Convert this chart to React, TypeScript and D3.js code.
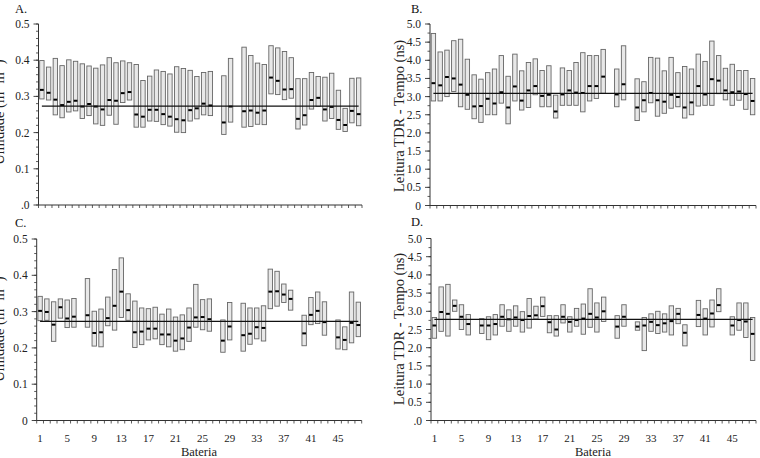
import React from 'react';
import * as d3 from 'd3';

// ---------- data ----------
const batteries = d3.range(1, 49);
const xTickLabels = [1, 5, 9, 13, 17, 21, 25, 29, 33, 37, 41, 45];

type V = number | null;

// Panel A – Umidade (m3 m-3)
const aMax: V[] = [0.399,0.381,0.405,0.385,0.401,0.397,0.390,0.384,0.378,0.387,0.407,0.393,0.398,0.393,0.388,0.344,0.356,0.373,0.369,0.362,0.382,0.377,0.372,0.355,0.366,0.369,null,0.357,0.405,null,0.436,0.413,0.392,0.388,0.440,0.434,0.424,0.407,0.349,0.349,0.366,0.355,0.353,0.364,0.317,0.267,0.350,0.351];
const aMin: V[] = [0.293,0.290,0.249,0.241,0.257,0.260,0.239,0.247,0.224,0.220,0.248,0.223,0.283,0.290,0.215,0.215,0.232,0.231,0.222,0.218,0.201,0.200,0.232,0.238,0.249,0.247,null,0.195,0.229,null,0.215,0.217,0.223,0.222,0.307,0.305,0.291,0.295,0.210,0.221,0.265,0.272,0.232,0.239,0.209,0.203,0.227,0.219];
const aMed: V[] = [0.318,0.310,0.291,0.276,0.285,0.288,0.272,0.279,0.272,0.264,0.290,0.288,0.309,0.312,0.250,0.244,0.263,0.263,0.251,0.244,0.237,0.234,0.262,0.267,0.280,0.275,null,0.228,0.272,null,0.259,0.261,0.255,0.261,0.352,0.343,0.319,0.320,0.238,0.248,0.290,0.296,0.264,0.271,0.235,0.221,0.260,0.251];
const aMean = 0.273;

// Panel B – Leitura TDR - Tempo (ns)
const bMax: V[] = [4.74,4.23,4.28,4.54,4.58,4.03,3.60,3.48,3.66,3.76,4.13,3.56,4.17,3.71,3.94,4.04,3.72,3.85,3.04,3.79,3.72,3.94,4.21,4.13,4.13,4.30,null,3.76,4.40,null,3.49,3.41,4.08,4.06,3.71,4.08,3.66,3.83,3.76,4.17,3.97,4.53,4.13,3.78,3.89,3.72,3.72,3.50];
const bMin: V[] = [2.88,2.88,3.00,3.14,2.72,2.65,2.39,2.29,2.50,2.50,2.82,2.25,2.88,2.63,2.70,3.05,2.72,2.72,2.41,2.76,2.76,2.76,2.58,2.88,2.95,3.09,null,2.72,2.91,null,2.34,2.58,2.83,2.46,2.54,2.68,2.72,2.41,2.50,2.74,2.76,2.76,3.08,2.91,2.76,2.90,2.65,2.50];
const bMed: V[] = [3.37,3.31,3.54,3.50,3.33,3.05,2.73,2.74,2.94,2.81,3.12,2.70,3.28,2.89,3.17,3.29,3.02,3.05,2.59,3.06,3.17,3.11,3.10,3.29,3.29,3.55,null,3.06,3.34,null,2.70,2.90,3.10,2.90,2.86,3.05,2.99,2.70,2.84,3.29,3.06,3.48,3.44,3.17,3.12,3.14,3.07,2.88];
const bMean = 3.09;

// Panel C – Umidade (m3 m-3)
const cMax: V[] = [0.342,0.335,0.327,0.335,0.332,0.336,null,0.391,0.301,0.307,0.340,0.416,0.448,0.349,0.329,0.310,0.308,0.312,0.293,0.307,0.285,0.291,0.310,0.375,0.333,0.335,null,0.277,0.325,null,0.323,0.310,0.310,0.316,0.417,0.411,0.376,0.359,null,0.290,0.339,0.354,0.327,null,0.277,0.258,0.354,0.326];
const cMin: V[] = [0.275,0.276,0.218,0.282,0.256,0.257,null,0.257,0.205,0.203,0.261,0.249,0.284,0.276,0.201,0.209,0.222,0.225,0.209,0.203,0.191,0.195,0.218,0.257,0.250,0.246,null,0.188,0.222,null,0.191,0.210,0.225,0.219,0.308,0.315,0.325,0.304,null,0.206,0.264,0.267,0.235,null,0.197,0.195,0.214,0.231];
const cMed: V[] = [0.302,0.299,0.264,0.312,0.281,0.286,null,0.290,0.241,0.243,0.282,0.316,0.355,0.304,0.243,0.245,0.253,0.253,0.237,0.237,0.220,0.226,0.256,0.284,0.285,0.279,null,0.220,0.259,null,0.235,0.239,0.257,0.255,0.355,0.356,0.347,0.335,null,0.240,0.291,0.302,0.271,null,0.229,0.222,0.269,0.263];
const cMean = 0.273;

// Panel D – Leitura TDR - Tempo (ns)
const dMax: V[] = [2.83,3.67,3.74,3.31,3.18,2.91,null,2.80,2.85,2.91,3.18,3.04,3.15,2.99,3.35,3.14,3.39,2.88,2.88,3.18,2.85,3.08,3.20,3.62,3.23,3.39,null,2.88,3.18,null,2.71,2.83,2.93,3.00,2.93,3.15,3.08,2.63,null,3.30,3.07,3.31,3.62,null,2.85,3.23,3.23,2.83];
const dMin: V[] = [2.26,2.45,2.32,3.00,2.50,2.35,null,2.39,2.22,2.35,2.59,2.45,2.59,2.43,2.54,2.79,2.86,2.41,2.32,2.68,2.43,2.59,2.37,2.56,2.43,2.72,null,2.26,2.59,null,2.48,1.92,2.45,2.39,2.43,2.35,2.66,2.05,null,2.58,2.35,2.57,2.99,null,2.35,2.48,2.28,1.65];
const dMed: V[] = [2.61,2.98,2.93,3.15,2.85,2.65,null,2.61,2.61,2.65,2.85,2.78,2.83,2.76,2.87,2.89,3.14,2.70,2.50,2.85,2.71,2.76,2.80,2.93,2.83,3.00,null,2.58,2.85,null,2.58,2.61,2.71,2.62,2.67,2.73,2.93,2.41,null,2.90,2.80,2.94,3.17,null,2.61,2.76,2.72,2.38];
const dMean = 2.78;

const umTicks = [0, 0.1, 0.2, 0.3, 0.4, 0.5];
const tdrTicks = [0, 0.5, 1, 1.5, 2, 2.5, 3, 3.5, 4, 4.5, 5];

// ---------- layout ----------
const FONT = "'Liberation Serif', 'Times New Roman', serif";

interface PanelCfg {
  letter: string;
  letterX: number;
  letterY: number;
  xRange: [number, number];
  yRange: [number, number];
  yMax: number;
  ticks: number[];
  tickLabels: string[];
  minorStep: number;
  maxV: V[];
  minV: V[];
  medV: V[];
  mean: number;
  titleKind: 'um' | 'tdr';
  titleX: number;
  titleY: number;
  showX: boolean;
  xTitleX: number;
}

const panels: PanelCfg[] = [
  {
    letter: 'A.', letterX: 15, letterY: 13, xRange: [38.5, 362], yRange: [205, 24], yMax: 0.5,
    ticks: umTicks, tickLabels: ['.0', '0.1', '0.2', '0.3', '0.4', '0.5'], minorStep: 0.02,
    maxV: aMax, minV: aMin, medV: aMed, mean: aMean, titleKind: 'um', titleX: 4, titleY: 112,
    showX: false, xTitleX: 0,
  },
  {
    letter: 'B.', letterX: 411, letterY: 13, xRange: [430, 756], yRange: [205.5, 24], yMax: 5,
    ticks: tdrTicks, tickLabels: ['0', '0.5', '1.0', '1.5', '2.0', '2.5', '3.0', '3.5', '4.0', '4.5', '5.0'], minorStep: 0.25,
    maxV: bMax, minV: bMin, medV: bMed, mean: bMean, titleKind: 'tdr', titleX: 404, titleY: 116,
    showX: false, xTitleX: 0,
  },
  {
    letter: 'C.', letterX: 15, letterY: 227, xRange: [36.7, 361.7], yRange: [420.5, 239], yMax: 0.5,
    ticks: umTicks, tickLabels: ['0', '0.1', '0.2', '0.3', '0.4', '0.5'], minorStep: 0.02,
    maxV: cMax, minV: cMin, medV: cMed, mean: cMean, titleKind: 'um', titleX: 4, titleY: 329,
    showX: true, xTitleX: 199,
  },
  {
    letter: 'D.', letterX: 411, letterY: 226, xRange: [431, 756], yRange: [420.5, 238.5], yMax: 5,
    ticks: tdrTicks, tickLabels: ['.0', '0.5', '1.0', '1.5', '2.0', '2.5', '3.0', '3.5', '4.0', '4.5', '5.0'], minorStep: 0.25,
    maxV: dMax, minV: dMin, medV: dMed, mean: dMean, titleKind: 'tdr', titleX: 404, titleY: 329,
    showX: true, xTitleX: 593,
  },
];

function Panel({ p }: { p: PanelCfg }) {
  const x = d3.scaleLinear().domain([0.5, 48.5]).range(p.xRange);
  const y = d3.scaleLinear().domain([0, p.yMax]).range(p.yRange);
  const x0 = p.xRange[0];
  const yBase = p.yRange[0];
  const bw = 4.4;
  const minorCount = Math.round(p.yMax / p.minorStep);
  const minor = d3.range(0, minorCount + 1).map((i) => i * p.minorStep);
  const xTickPos = d3.range(0, 49).map((i) => 0.5 + i);
  const axisColor = '#333';

  return (
    <g>
      <text x={p.letterX} y={p.letterY} fontFamily={FONT} fontSize={12.5} fill="#111">{p.letter}</text>

      {/* y axis */}
      <line x1={x0} x2={x0} y1={y(0)} y2={y(p.yMax)} stroke={axisColor} strokeWidth={1} />
      {minor.map((v, i) => (
        <line key={'m' + i} x1={x0 - 2.5} x2={x0} y1={y(v)} y2={y(v)} stroke={axisColor} strokeWidth={0.8} />
      ))}
      {p.ticks.map((v, i) => (
        <g key={'t' + i}>
          <line x1={x0 - 5} x2={x0} y1={y(v)} y2={y(v)} stroke={axisColor} strokeWidth={0.9} />
          <text x={x0 - 9} y={y(v)} dy="0.35em" textAnchor="end" fontFamily={FONT} fontSize={11.5} fill="#222">
            {p.tickLabels[i]}
          </text>
        </g>
      ))}

      {/* x axis */}
      <line x1={x0} x2={p.xRange[1]} y1={yBase} y2={yBase} stroke={axisColor} strokeWidth={1} />
      {xTickPos.map((v, i) => (
        <line key={'xt' + i} x1={x(v)} x2={x(v)} y1={yBase} y2={yBase + 3} stroke={axisColor} strokeWidth={0.8} />
      ))}
      {p.showX && xTickLabels.map((b) => (
        <text key={'xl' + b} x={x(b)} y={yBase + 21.5} textAnchor="middle" fontFamily={FONT} fontSize={11} fill="#222">{b}</text>
      ))}
      {p.showX && (
        <text x={p.xTitleX} y={yBase + 35.5} textAnchor="middle" fontFamily={FONT} fontSize={12.5} fill="#222">Bateria</text>
      )}

      {/* y title */}
      <text transform={`translate(${p.titleX},${p.titleY}) rotate(-90)`} textAnchor="middle" fontFamily={FONT} fontSize={14.5} fill="#222">
        {p.titleKind === 'tdr' ? (
          'Leitura TDR - Tempo (ns)'
        ) : (
          <>
            Umidade (m<tspan dy={-5} fontSize={9.5}>3</tspan><tspan dy={5}> m</tspan><tspan dy={-5} fontSize={9.5}>-3</tspan><tspan dy={5}>)</tspan>
          </>
        )}
      </text>

      {/* bars */}
      {batteries.map((b, i) => {
        const mx = p.maxV[i];
        const mn = p.minV[i];
        const md = p.medV[i];
        if (mx == null || mn == null || md == null) return null;
        const cx = x(b);
        return (
          <g key={'b' + b}>
            <rect x={cx - bw / 2} y={y(mx)} width={bw} height={y(mn) - y(mx)} fill="#e8e8e8" stroke="#666" strokeWidth={0.9} />
            <rect x={cx - bw / 2 + 0.3} y={y(md) - 1} width={bw - 0.6} height={2} fill="#000" />
          </g>
        );
      })}

      {/* mean line */}
      <line x1={x(1)} x2={x(48)} y1={y(p.mean)} y2={y(p.mean)} stroke="#111" strokeWidth={1.2} />
    </g>
  );
}

export default function App() {
  return (
    <>
      <style>{'body{margin:0;background:#fff}'}</style>
      <svg width={760} height={458} style={{ display: 'block', background: '#fff' }}>
        {panels.map((p) => (
          <Panel key={p.letter} p={p} />
        ))}
      </svg>
    </>
  );
}
